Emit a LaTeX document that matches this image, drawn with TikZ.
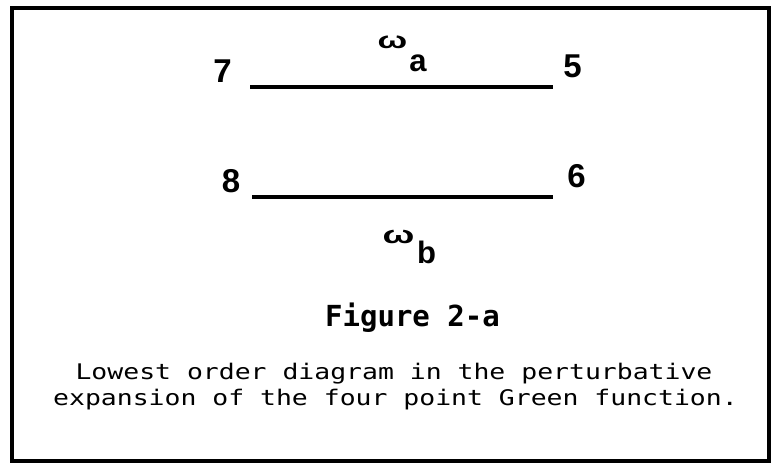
\documentclass[tikz,border=0pt]{standalone}
\usepackage{fontspec}
\setmainfont{Liberation Sans}
\newfontfamily\capfont{DejaVu Sans Mono}
\newfontfamily\numfont{Liberation Sans}
\begin{document}
\begin{tikzpicture}[x=1pt,y=-1pt,
  lbl/.style={inner sep=0pt,outer sep=0pt,anchor=base},
  num/.style={lbl,font=\numfont\fontsize{33}{33}\selectfont\bfseries},
  om/.style={lbl,font=\numfont\fontsize{26}{26}\selectfont\bfseries},
  sub/.style={lbl,font=\numfont\fontsize{31}{31}\selectfont\bfseries},
  captext/.style={lbl,font=\capfont\fontsize{21.5}{21.5}\selectfont},
  figtitle/.style={lbl,font=\capfont\fontsize{29}{29}\selectfont\bfseries},
  prop/.style={line width=4pt},
  frame/.style={line width=4pt}]
\useasboundingbox (0,0) rectangle (779,466);
\draw[frame] (12,8) rectangle (769,461);
% vertices
\node[num] (n7) at (222.5,82) {7};
\node[num] (n5) at (572.5,77) {5};
\node[num] (n8) at (231,192) {8};
\node[num] (n6) at (576.5,187) {6};
% propagators
\coordinate (a1) at (250,87);
\coordinate (a2) at (553,87);
\coordinate (b1) at (252,197);
\coordinate (b2) at (553,197);
\draw[prop] (a1) -- (a2);
\draw[prop] (b1) -- (b2);
% frequency labels
\node[om] (wa) at (392.5,48) {\scalebox{1.35}[0.9]{ω}};
\node[sub] (sa) at (418,71) {a};
\node[om] (wb) at (398.5,243) {\scalebox{1.45}[0.95]{ω}};
\node[sub] (sb) at (426.5,263) {b};
% caption
\node[figtitle] (fig) at (412.5,326) {Figure 2-a};
\node[captext] (c1) at (394,379) {\scalebox{1.23}[1]{Lowest order diagram in the perturbative}};
\node[captext] (c2) at (395.5,405) {\scalebox{1.23}[1]{expansion of the four point Green function.}};
\end{tikzpicture}
\end{document}
